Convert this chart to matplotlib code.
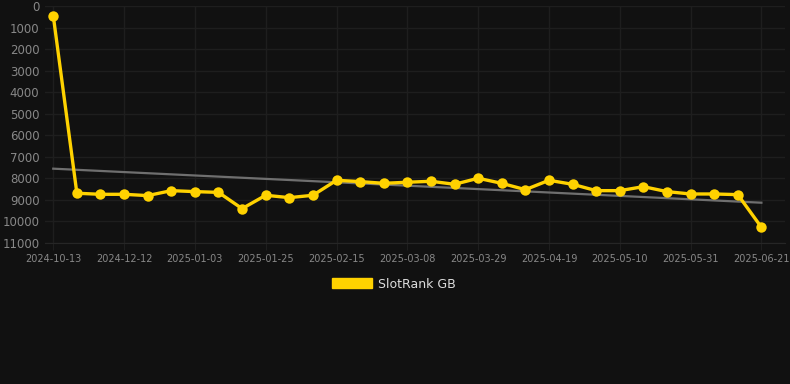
import matplotlib.pyplot as plt
from matplotlib.patches import Patch

# Datos (ranking semanal, eje invertido)
dates = ["2024-10-13", "2024-11-28", "2024-12-05", "2024-12-12", "2024-12-19",
         "2024-12-26", "2025-01-03", "2025-01-10", "2025-01-17", "2025-01-25",
         "2025-02-01", "2025-02-08", "2025-02-15", "2025-02-22", "2025-03-01",
         "2025-03-08", "2025-03-15", "2025-03-22", "2025-03-29", "2025-04-05",
         "2025-04-12", "2025-04-19", "2025-04-26", "2025-05-03", "2025-05-10",
         "2025-05-17", "2025-05-24", "2025-05-31", "2025-06-07", "2025-06-14",
         "2025-06-21"]
rank = [450, 8690, 8740, 8740, 8800, 8570, 8615, 8650, 9405, 8785,
        8895, 8785, 8090, 8150, 8230, 8180, 8135, 8275, 7995, 8230,
        8525, 8090, 8275, 8570, 8570, 8385, 8615, 8725, 8725, 8755,
        10270]
trend_ends = [7550, 9130]
y_ticks = list(range(0, 12000, 1000))

BG = "#111111"
GRID = "#1e1e1e"
YELLOW = "#FFD200"

fig = plt.figure(figsize=(7.9, 3.84), dpi=100, facecolor=BG)
ax = fig.add_axes([45 / 790, 1 - 243 / 384, 740 / 790, 237 / 384])
ax.set_facecolor(BG)

x = list(range(len(rank)))
ax.plot([x[0], x[-1]], trend_ends, color="#6f6f6f", lw=1.6, zorder=2)
ax.plot(x, rank, color=YELLOW, lw=2.4, marker="o", markersize=7.5,
        markeredgewidth=0, zorder=3, clip_on=False)

ax.set_ylim(11000, 0)
ax.set_xlim(-0.35, len(rank) - 1 + 1.0)
ax.set_yticks(y_ticks)
ax.set_yticklabels([str(v) for v in y_ticks])
tick_idx = list(range(0, len(rank), 3))
ax.set_xticks(tick_idx)
ax.set_xticklabels([dates[i] for i in tick_idx])

ax.grid(True, color=GRID, lw=1)
ax.set_axisbelow(True)
for s in ax.spines.values():
    s.set_visible(False)
ax.spines["bottom"].set_visible(True)
ax.spines["bottom"].set_color("#262626")
ax.tick_params(axis="y", length=0, pad=4, labelsize=8.5, labelcolor="#888888")
ax.tick_params(axis="x", length=5, color=GRID, pad=3, labelsize=7, labelcolor="#888888")

fig.legend(handles=[Patch(facecolor=YELLOW, edgecolor=YELLOW, label="SlotRank GB")],
           loc="center", bbox_to_anchor=(394 / 790, 1 - 284 / 384), frameon=False,
           handlelength=3.2, handleheight=0.9, handletextpad=0.5,
           fontsize=9, labelcolor="#dddddd")

fig.savefig("out.png", dpi=100, facecolor=BG)
